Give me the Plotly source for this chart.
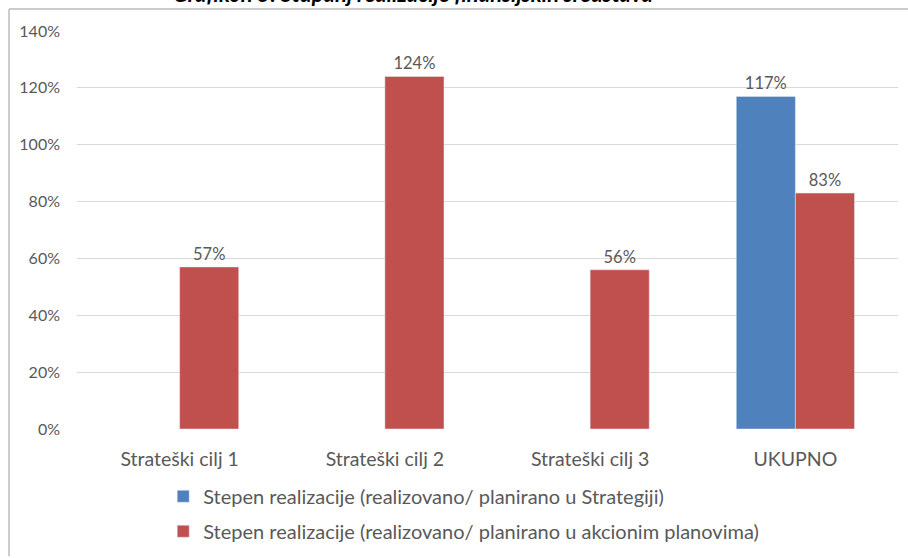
import plotly.graph_objects as go

categories = ["Strateški cilj 1", "Strateški cilj 2", "Strateški cilj 3", "UKUPNO"]
strategija = [None, None, None, 1.17]
akcioni = [0.57, 1.24, 0.56, 0.83]
name_strategija = "Stepen realizacije (realizovano/ planirano u Strategiji)"
name_akcioni = "Stepen realizacije (realizovano/ planirano u akcionim planovima)"
title_text = "Grafikon 5: Stupanj realizacije finansijskih sredstava"

font_family = "Lato, 'Open Sans', sans-serif"
gray = "#595959"

fig = go.Figure()
fig.add_trace(go.Bar(x=categories, y=strategija, name=name_strategija,
                     marker_color="#4F81BD", legendgroup="a",
                     text=[None if v is None else f"{v:.0%}" for v in strategija],
                     textposition="outside", cliponaxis=False,
                     textfont=dict(size=16.5, color=gray)))
fig.add_trace(go.Bar(x=categories, y=akcioni, name=name_akcioni,
                     marker_color="#C0504D", legendgroup="b",
                     text=[f"{v:.0%}" for v in akcioni],
                     textposition="outside", cliponaxis=False,
                     textfont=dict(size=16.5, color=gray)))

# outer chart border (top and left visible)
border = dict(color="#cccccc", width=2)
fig.add_shape(type="line", xref="paper", yref="paper", layer="above",
              x0=-0.0828, x1=1.02, y0=1.0553, y1=1.0553, line=border)
fig.add_shape(type="line", xref="paper", yref="paper", layer="above",
              x0=-0.0828, x1=-0.0828, y0=1.0553, y1=-0.32, line=border)

fig.add_annotation(text=f"<b><i>{title_text}</i></b>", xref="paper", yref="paper",
                   x=0.409, y=1, yanchor="bottom", yshift=22, showarrow=False,
                   font=dict(size=22, color="black", family=font_family))

fig.update_layout(
    width=908, height=558,
    margin=dict(l=77, r=10, t=31, b=129, autoexpand=False),
    paper_bgcolor="white", plot_bgcolor="white",
    font=dict(family=font_family, color=gray, size=14),
    barmode="group", bargap=0.424, bargroupgap=0,
    showlegend=True,
    legend=dict(orientation="v", x=0.105, xanchor="left", y=-0.12, yanchor="top",
                font=dict(size=20, color=gray), tracegroupgap=6,
                itemwidth=30),
)
fig.update_yaxes(range=[0, 1.4], dtick=0.2, tickformat=".0%", automargin=False,
                 showgrid=True, gridcolor="#d9d9d9", gridwidth=1,
                 zeroline=False, showline=False, ticks="", ticklabelstandoff=16,
                 tickfont=dict(size=16, color=gray))
fig.update_xaxes(showgrid=False, showline=False, ticks="", ticklabelstandoff=16,
                 automargin=False, tickfont=dict(size=19.5, color=gray))

fig.write_html("out.html", config={"displayModeBar": False},
               post_script="document.body.style.margin='0';")
